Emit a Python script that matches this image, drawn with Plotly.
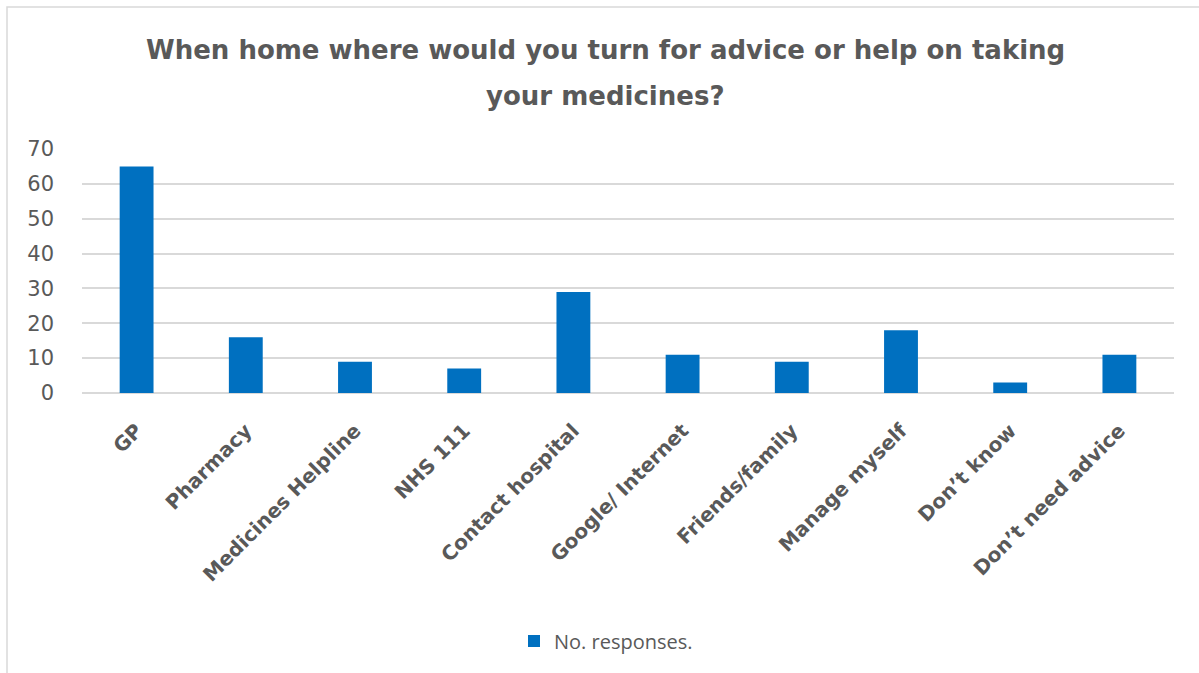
import plotly.graph_objects as go

categories = ["GP", "Pharmacy", "Medicines Helpline", "NHS 111", "Contact hospital",
              "Google/ Internet", "Friends/family", "Manage myself", "Don\u2019t know",
              "Don\u2019t need advice"]
responses = [65, 16, 9, 7, 29, 11, 9, 18, 3, 11]
series_name = "No. responses."
title_lines = ["When home where would you turn for advice or help on taking",
               "your medicines?"]

W, H = 1199, 673
ml, mr, mt, mb = 82, 25, 149, 280
pw = W - ml - mr
ph = H - mt - mb

def px_x(p):
    return (p - ml) / pw

def px_y(p):
    return (H - mb - p) / ph

fig = go.Figure()
fig.add_trace(go.Bar(
    x=categories, y=responses, name=series_name,
    marker=dict(color="#0070C0", line=dict(width=0)),
))

title_font = dict(family="DejaVu Sans", size=26, color="#595959", weight="bold")
annotations = []
for i, (line, ypx) in enumerate(zip(title_lines, [50, 96])):
    annotations.append(dict(text=line, xref="paper", yref="paper",
                            x=px_x(605), y=px_y(ypx), xanchor="center", yanchor="middle",
                            showarrow=False, font=title_font))

fig.update_layout(
    width=W, height=H,
    margin=dict(l=ml, r=mr, t=mt, b=mb),
    paper_bgcolor="white", plot_bgcolor="white",
    bargap=0.69,
    annotations=annotations,
    showlegend=True,
    legend=dict(orientation="h", x=px_x(514), xanchor="left", xref="paper",
                y=1 - 641 / H, yanchor="middle", yref="container",
                font=dict(family="Open Sans", size=20, color="#595959"),
                itemwidth=30),
    xaxis=dict(tickangle=-45, showgrid=False, showline=False, ticks="",
               ticklabelstandoff=21,
               tickfont=dict(family="DejaVu Sans", size=20, color="#595959", weight="bold")),
    yaxis=dict(range=[0, 70], dtick=10, showgrid=True, gridcolor="#d9d9d9", gridwidth=1.5,
               zeroline=True, zerolinecolor="#d9d9d9", zerolinewidth=1.5,
               ticks="", ticklabelstandoff=27,
               tickfont=dict(family="DejaVu Sans", size=21, color="#595959")),
    shapes=[dict(type="rect", xref="paper", yref="paper",
                 x0=px_x(7), x1=px_x(1260), y0=px_y(700), y1=px_y(7),
                 line=dict(color="#d9d9d9", width=1.5), layer="below")],
)

fig.write_html("out.html")
